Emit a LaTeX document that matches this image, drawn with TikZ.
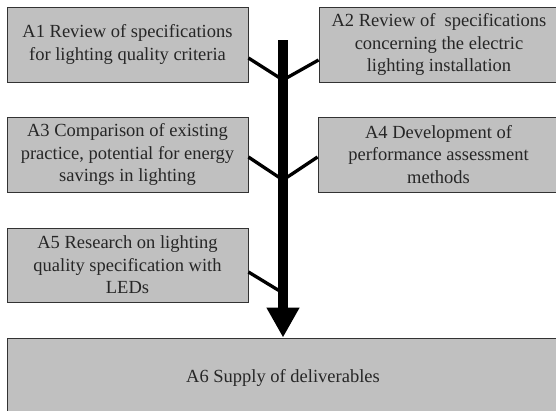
\documentclass[tikz,border=0pt]{standalone}
\usepackage{fontspec}
\setmainfont{Liberation Serif}
\usetikzlibrary{arrows.meta}
\definecolor{boxgray}{HTML}{C0C0C0}

\begin{document}
\begin{tikzpicture}[x=1pt, y=-1pt,
  task/.style={draw=black!80, fill=boxgray, line width=0.9pt, align=center,
    inner sep=0pt, text=black!85, font=\fontsize{18.5}{22.5}\selectfont},
  link/.style={line width=3.3pt},
]
\useasboundingbox (0,0) rectangle (556,410);
\clip (0,0) rectangle (556,410);

% Work packages, left column
\node[task, minimum width=241pt, minimum height=75pt] (A1) at (127.5,44.5)
  {A1 Review of specifications\\for lighting quality criteria};
\node[task, minimum width=241pt, minimum height=75pt] (A3) at (127.5,154.5)
  {A3 Comparison of existing\\practice, potential for energy\\savings in lighting};
\node[task, minimum width=241pt, minimum height=74pt] (A5) at (127.5,265)
  {A5 Research on lighting\\quality specification with\\LEDs};

% Work packages, right column
\node[task, minimum width=240pt, minimum height=75pt] (A2) at (439,44.5)
  {A2 Review of\ \ specifications\\concerning the electric\\lighting installation};
\node[task, minimum width=241pt, minimum height=75pt] (A4) at (438.5,154.5)
  {A4 Development of\\performance assessment\\methods};

% Deliverables
\node[task, minimum width=552pt, minimum height=80pt] (A6) at (283,378)
  {A6 Supply of deliverables};

% Main flow
\coordinate (top) at (283,40);
\coordinate (j1) at (283,80);
\coordinate (j2) at (283,180);
\coordinate (j3) at (283,293);
\draw[line width=10pt, -{Triangle[width=31pt, length=30pt]}] (top) -- (top |- A6.north);

% Inputs joining the flow
\draw[link] ([yshift=-13.5pt]A1.east) -- (j1);
\draw[link] ([yshift=-15.5pt]A2.west) -- (j1);
\draw[link] ([yshift=-2.5pt]A3.east) -- (j2);
\draw[link] ([yshift=-2.5pt]A4.west) -- (j2);
\draw[link] ([yshift=-7pt]A5.east) -- (j3);
\end{tikzpicture}
\end{document}
